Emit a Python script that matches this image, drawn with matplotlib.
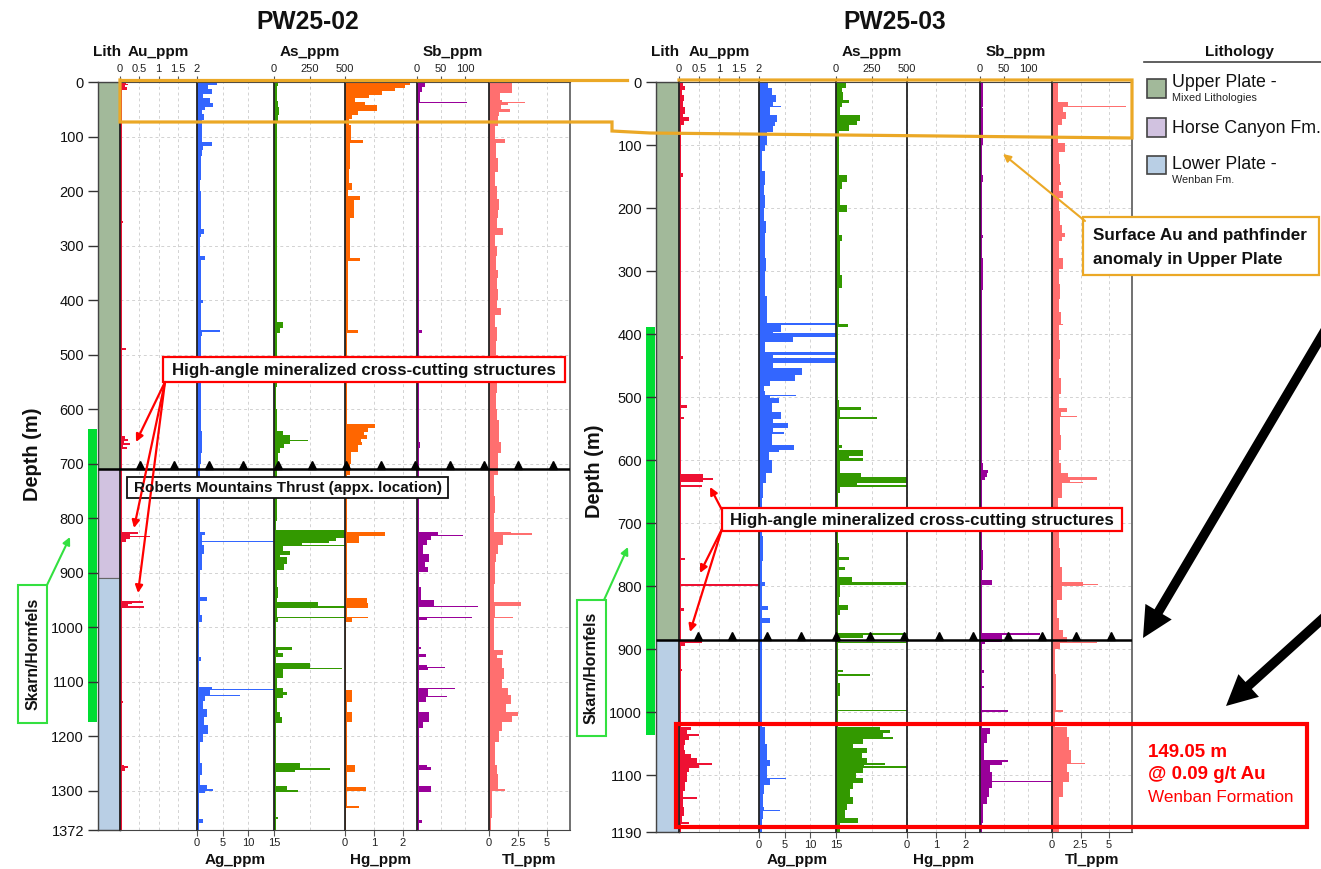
import matplotlib
matplotlib.use("Agg")
import matplotlib.pyplot as plt
from matplotlib.patches import Rectangle
from matplotlib.transforms import offset_copy

plt.rcParams['font.family'] = ['Liberation Sans', 'DejaVu Sans']

# ---------------- data ----------------
TD_02 = 1372
TD_03 = 1190
DEPTH_TICKS_02 = [0, 100, 200, 300, 400, 500, 600, 700, 800, 900, 1000, 1100, 1200, 1300, 1372]
DEPTH_TICKS_03 = [0, 100, 200, 300, 400, 500, 600, 700, 800, 900, 1000, 1100, 1190]

LITH_02 = [(0, 710, 'upper'), (710, 910, 'horse'), (910, 1372, 'lower')]
LITH_03 = [(0, 885, 'upper'), (885, 1190, 'lower')]
SKARN_02 = (636, 1174)
SKARN_03 = (389, 1036)
THRUST_02 = 710
THRUST_03 = 885

# (sample top depth m, value ppm)
AU_02 = [(0, 0.15), (3, 0.22), (6, 0.12), (10, 0.18), (14, 0.04), (255, 0.08), (258, 0.04), (488, 0.15),
         (491, 0.04), (650, 0.12), (654, 0.22), (658, 0.1), (662, 0.25), (666, 0.08), (670, 0.18), (674, 0.06),
         (678, 0.04), (826, 0.48), (829, 0.26), (832, 0.78), (834, 0.26), (838, 0.15), (843, 0.04), (952, 0.6),
         (955, 0.3), (958, 0.2), (961, 0.62), (964, 0.04), (1136, 0.08), (1139, 0.04), (1252, 0.1), (1255, 0.22),
         (1259, 0.12), (1263, 0.04)]
AG_02 = [(0, 3.8), (5, 2.2), (12, 3.0), (22, 1.2), (30, 2.5), (38, 3.2), (45, 1.6), (52, 1.0), (58, 1.4), (70, 1.0),
         (80, 0.9), (95, 1.0), (110, 3.0), (118, 1.2), (125, 0.9), (135, 0.8), (180, 0.6), (200, 0.7), (270, 1.4),
         (278, 0.8), (285, 0.6), (320, 1.6), (326, 0.8), (335, 0.7), (400, 1.2), (406, 0.8), (450, 0.7), (454, 4.5),
         (458, 0.9), (465, 0.7), (600, 0.8), (640, 1.0), (680, 0.7), (700, 0.6), (760, 0.5), (800, 0.5), (825, 1.5),
         (830, 0.9), (842, 15), (844, 0.9), (850, 1.3), (865, 1.0), (895, 0.5), (945, 1.9), (952, 0.5), (978, 0.9),
         (990, 0.4), (1055, 0.8), (1062, 0.4), (1110, 2.9), (1114, 15), (1116, 2.5), (1125, 8.4), (1127, 1.6),
         (1135, 1.2), (1150, 1.9), (1165, 1.4), (1180, 2.2), (1195, 1.2), (1210, 0.5), (1250, 0.9), (1272, 0.5),
         (1290, 2.0), (1296, 3.2), (1300, 1.5), (1304, 0.4), (1352, 1.2), (1360, 0.4)]
AS_02 = [(0, 30), (8, 22), (20, 18), (35, 30), (45, 35), (60, 28), (75, 18), (100, 22), (150, 18), (200, 20),
         (300, 18), (400, 20), (440, 66), (452, 40), (460, 18), (560, 15), (600, 20), (640, 66), (648, 110),
         (656, 242), (659, 110), (664, 70), (672, 40), (680, 25), (700, 18), (770, 22), (806, 15), (822, 500),
         (836, 440), (842, 390), (846, 200), (849, 500), (851, 60), (861, 113), (867, 40), (871, 89), (884, 70),
         (895, 18), (926, 25), (947, 18), (953, 308), (962, 500), (964, 22), (981, 500), (983, 25), (990, 15),
         (1036, 125), (1042, 30), (1048, 60), (1054, 15), (1066, 254), (1074, 477), (1076, 60), (1088, 60),
         (1094, 18), (1112, 60), (1118, 89), (1124, 60), (1130, 18), (1155, 45), (1165, 55), (1175, 15),
         (1250, 183), (1259, 395), (1262, 150), (1266, 15), (1292, 89), (1298, 167), (1302, 15), (1348, 25),
         (1352, 12)]
HG_02 = [(0, 2.26), (5, 2.08), (11, 1.74), (17, 1.27), (24, 0.85), (30, 0.35), (36, 0.7), (42, 1.1), (54, 0.45),
         (60, 0.25), (68, 0.15), (79, 0.2), (106, 0.64), (112, 0.18), (160, 0.15), (186, 0.23), (198, 0.12),
         (210, 0.52), (216, 0.3), (250, 0.18), (323, 0.52), (328, 0.12), (400, 0.1), (455, 0.44), (460, 0.06),
         (628, 1.04), (635, 0.8), (642, 0.65), (648, 0.75), (654, 0.55), (660, 0.6), (666, 0.45), (678, 0.2),
         (700, 0.18), (720, 0.08), (826, 1.39), (832, 0.5), (845, 0.06), (947, 0.75), (956, 0.8), (965, 0.06),
         (981, 0.8), (983, 0.25), (990, 0.05), (1115, 0.25), (1137, 0.06), (1155, 0.25), (1173, 0.06),
         (1252, 0.35), (1265, 0.06), (1294, 0.72), (1300, 0.06), (1328, 0.5), (1331, 0.04)]
SB_02 = [(0, 16), (10, 10), (18, 6), (36, 105), (39, 5), (60, 5), (455, 11), (460, 5), (660, 6), (672, 5),
         (825, 44), (830, 96), (832, 30), (840, 20), (849, 12), (865, 24), (880, 16), (890, 22), (898, 5), (926, 8),
         (950, 36), (961, 128), (963, 5), (981, 114), (983, 20), (986, 5), (1036, 8), (1040, 5), (1050, 18),
         (1054, 5), (1069, 20), (1073, 58), (1075, 22), (1078, 5), (1112, 79), (1114, 22), (1126, 63), (1128, 18),
         (1137, 5), (1155, 24), (1173, 12), (1185, 5), (1252, 20), (1257, 30), (1262, 5), (1292, 30), (1302, 5),
         (1354, 10), (1360, 4)]
TL_02 = [(0, 1.96), (20, 0.95), (33, 1.1), (36, 3.1), (39, 1.6), (43, 1.0), (49, 1.8), (55, 0.9), (63, 0.75),
         (80, 0.5), (104, 1.4), (112, 0.6), (140, 0.75), (165, 0.55), (190, 0.7), (215, 0.9), (235, 0.8),
         (250, 0.65), (268, 1.24), (281, 0.55), (300, 0.7), (320, 0.6), (345, 0.75), (360, 0.65), (380, 0.8),
         (400, 0.7), (415, 1.0), (427, 0.55), (450, 0.7), (475, 0.6), (500, 0.75), (520, 0.6), (545, 0.7),
         (570, 0.6), (600, 0.7), (620, 0.85), (640, 0.9), (660, 1.0), (680, 0.8), (700, 0.75), (720, 0.45),
         (760, 0.55), (790, 0.45), (825, 1.9), (828, 3.7), (830, 1.2), (849, 0.8), (865, 0.6), (880, 0.5),
         (920, 0.4), (953, 2.8), (962, 0.5), (982, 2.1), (984, 0.4), (1042, 1.24), (1051, 0.7), (1057, 1.1),
         (1075, 1.3), (1095, 1.1), (1112, 1.67), (1125, 1.9), (1140, 1.5), (1155, 2.5), (1163, 2.0), (1173, 1.1),
         (1190, 0.9), (1210, 0.5), (1253, 0.7), (1270, 0.8), (1296, 1.4), (1300, 0.3), (1350, 0.2)]

AU_03 = [(0, 0.1), (6, 0.15), (12, 0.08), (20, 0.12), (30, 0.1), (40, 0.15), (50, 0.1), (55, 0.26), (62, 0.12),
         (68, 0.05), (145, 0.1), (150, 0.05), (230, 0.06), (260, 0.04), (435, 0.1), (440, 0.04), (513, 0.19),
         (517, 0.04), (531, 0.12), (535, 0.04), (622, 0.6), (628, 0.86), (631, 0.6), (635, 0.04), (639, 0.57),
         (642, 0.04), (755, 0.15), (758, 0.04), (796, 2.0), (799, 0.04), (834, 0.12), (840, 0.04), (886, 0.57),
         (890, 0.15), (895, 0.04), (932, 0.08), (934, 0.04), (1023, 0.3), (1028, 0.2), (1034, 0.5), (1038, 0.25),
         (1044, 0.15), (1052, 0.12), (1060, 0.15), (1066, 0.3), (1073, 0.45), (1080, 0.82), (1083, 0.5),
         (1088, 0.25), (1095, 0.2), (1110, 0.15), (1125, 0.1), (1135, 0.44), (1138, 0.1), (1150, 0.12),
         (1165, 0.08), (1174, 0.25), (1177, 0.05)]
AG_03 = [(0, 1.8), (10, 2.5), (21, 3.3), (31, 2.8), (38, 4.3), (40, 2.2), (53, 3.6), (63, 3.1), (70, 2.8),
         (80, 1.5), (100, 1.2), (110, 0.6), (142, 1.2), (163, 0.9), (180, 1.1), (200, 1.0), (220, 1.3), (240, 1.1),
         (260, 1.2), (280, 1.4), (300, 1.1), (320, 1.2), (340, 1.6), (360, 1.5), (383, 15), (385, 4.2), (396, 2.8),
         (399, 15), (404, 6.7), (412, 1.2), (428, 15), (433, 2.8), (438, 15), (446, 2.8), (454, 8.3), (465, 7.0),
         (475, 2.2), (483, 0.9), (490, 1.2), (496, 7.3), (498, 2.2), (502, 3.8), (510, 2.5), (523, 4.2), (534, 2.8),
         (541, 5.7), (549, 2.8), (555, 4.8), (558, 2.5), (563, 2.5), (576, 6.8), (584, 3.8), (587, 2.0), (600, 2.5),
         (620, 1.3), (637, 0.8), (660, 0.6), (720, 0.7), (760, 0.5), (794, 1.2), (799, 0.5), (832, 1.8), (838, 0.6),
         (851, 2.1), (859, 0.6), (900, 0.5), (1000, 0.6), (1023, 1.1), (1050, 1.6), (1075, 2.1), (1085, 1.6),
         (1104, 5.3), (1106, 2.1), (1115, 1.0), (1130, 0.8), (1150, 1.0), (1155, 4.0), (1157, 0.8), (1170, 0.6)]
AS_03 = [(0, 68), (10, 40), (16, 50), (28, 94), (34, 45), (39, 30), (53, 169), (62, 145), (68, 90), (78, 20),
         (100, 18), (148, 75), (158, 40), (169, 25), (195, 75), (206, 22), (243, 45), (253, 25), (306, 40), (327, 22),
         (384, 87), (388, 15), (505, 18), (515, 176), (520, 28), (531, 287), (535, 22), (576, 45), (581, 20),
         (584, 193), (594, 95), (597, 188), (602, 25), (621, 174), (626, 500), (637, 150), (640, 500), (642, 25),
         (652, 15), (732, 18), (754, 92), (758, 20), (770, 63), (774, 20), (785, 110), (793, 500), (798, 25),
         (812, 30), (817, 18), (830, 87), (838, 30), (845, 15), (875, 500), (877, 193), (882, 30), (888, 500),
         (890, 15), (933, 50), (936, 15), (940, 240), (942, 15), (954, 30), (975, 15), (996, 500), (998, 15),
         (1023, 310), (1028, 380), (1033, 334), (1039, 404), (1042, 193), (1050, 120), (1056, 216), (1064, 180),
         (1072, 216), (1081, 345), (1084, 200), (1086, 500), (1088, 193), (1096, 140), (1104, 193), (1112, 122),
         (1122, 100), (1134, 122), (1145, 75), (1155, 60), (1168, 157), (1176, 30)]
HG_03 = []
SB_03 = [(0, 6), (20, 7), (40, 5), (42, 6), (100, 5), (148, 6), (158, 5), (243, 7), (248, 5), (280, 6), (330, 5),
         (605, 6), (616, 17), (621, 14), (626, 10), (632, 5), (743, 7), (774, 5), (790, 24), (798, 5), (874, 125),
         (877, 45), (888, 10), (892, 5), (933, 8), (938, 5), (959, 8), (962, 5), (996, 59), (999, 5), (1025, 21),
         (1035, 14), (1049, 8), (1075, 59), (1079, 45), (1083, 20), (1095, 25), (1109, 150), (1111, 25),
         (1120, 18), (1135, 14), (1145, 7), (1176, 4)]
TL_03 = [(0, 0.55), (31, 1.4), (38, 6.5), (39.5, 1.0), (48, 1.2), (58, 0.9), (68, 0.5), (97, 1.14), (111, 0.6),
         (130, 0.7), (158, 0.8), (163, 0.6), (173, 1.0), (184, 0.6), (205, 0.7), (227, 0.85), (240, 1.1),
         (246, 0.85), (253, 0.6), (280, 1.0), (296, 0.6), (320, 0.7), (345, 0.6), (365, 0.75), (384, 1.0),
         (386, 0.6), (410, 0.7), (440, 0.65), (470, 0.75), (495, 0.65), (518, 1.3), (523, 0.8), (530, 2.2),
         (532, 0.7), (560, 0.8), (584, 0.6), (605, 0.75), (621, 1.4), (627, 3.9), (631, 1.6), (634, 2.7),
         (636, 0.9), (660, 0.55), (700, 0.65), (740, 0.7), (770, 0.85), (794, 2.7), (796, 4.05), (798, 2.7),
         (800, 0.9), (822, 0.4), (850, 0.6), (869, 1.0), (880, 1.3), (888, 3.9), (890, 0.7), (900, 0.3),
         (940, 0.35), (996, 1.0), (1000, 0.3), (1023, 1.3), (1040, 1.5), (1060, 1.7), (1080, 2.9), (1082, 1.3),
         (1095, 1.5), (1110, 1.0), (1135, 0.6), (1176, 0.6)]

ELEMENTS = ['Au', 'Ag', 'As', 'Hg', 'Sb', 'Tl']
XMAX = {'Au': 2, 'Ag': 15, 'As': 500, 'Hg': 2.5, 'Sb': 150, 'Tl': 7}
XTICKS = {'Au': [0, 0.5, 1, 1.5, 2], 'Ag': [0, 5, 10, 15], 'As': [0, 250, 500],
          'Hg': [0, 1, 2], 'Sb': [0, 50, 100], 'Tl': [0, 2.5, 5]}
XTICKLABELS = {'Au': ['0', '0.5', '1', '1.5', '2'], 'Ag': ['0', '5', '10', '15'], 'As': ['0', '250', '500'],
               'Hg': ['0', '1', '2'], 'Sb': ['0', '50', '100'], 'Tl': ['0', '2.5', '5']}
LABEL_TOP = {'Au': True, 'Ag': False, 'As': True, 'Hg': False, 'Sb': True, 'Tl': False}

# ---------------- styles ----------------
COLORS = {'Au': '#ee1133', 'Ag': '#3366ff', 'As': '#339900', 'Hg': '#ff6600', 'Sb': '#990099', 'Tl': '#ff6f6f'}
LITH_COLORS = {'upper': '#a2b99a', 'horse': '#d1c2e0', 'lower': '#b9cfe5'}
SKARN_COLOR = '#00dd33'
YELLOW = '#eba826'
W, H = 1321, 869

fig = plt.figure(figsize=(W / 100, H / 100), dpi=100)


def rect(x0, x1, y0, y1):
    return [x0 / W, 1 - y1 / H, (x1 - x0) / W, (y1 - y0) / H]


def draw_series(ax, samples, td, color, xmax):
    if not samples:
        return
    tops = [s[0] for s in samples]
    vals = [min(s[1], xmax) for s in samples]
    bots = tops[1:] + [td]
    hts = [b - t for t, b in zip(tops, bots)]
    ax.barh(tops, vals, height=hts, align='edge', color=color, linewidth=0)


def panel(td, series, lith, skarn, thrust, yticks, cfg):
    yt, yb = cfg['ytop'], cfg['ybot']
    edges = cfg['edges']
    sk = fig.add_axes(rect(cfg['skarn_x'][0], cfg['skarn_x'][1], yt, yb))
    sk.set_zorder(0)
    sk.set_xlim(0, 1)
    sk.set_ylim(td, 0)
    sk.axis('off')
    sk.axhspan(skarn[0], skarn[1], color=SKARN_COLOR, lw=0)

    la = fig.add_axes(rect(cfg['lith'][0], cfg['lith'][1], yt, yb))
    la.set_zorder(1)
    la.set_xlim(0, 1)
    la.set_ylim(td, 0)
    for top, bot, unit in lith:
        la.axhspan(top, bot, facecolor=LITH_COLORS[unit], edgecolor='#666666', lw=0.8)
    la.set_xticks([])
    la.set_yticks(yticks)
    la.set_yticklabels([str(t) for t in yticks])
    la.tick_params(axis='y', direction='out', length=7, width=1, color='#333333', labelsize=10.5, pad=3,
                   labelcolor='#111111')
    for s in la.spines.values():
        s.set_color('#444444')
        s.set_linewidth(1.0)

    for i, el in enumerate(ELEMENTS):
        ax = fig.add_axes(rect(edges[i], edges[i + 1], yt, yb))
        ax.set_zorder(1)
        ax.set_xlim(0, XMAX[el])
        ax.set_ylim(td, 0)
        ax.set_yticks(list(range(100, td, 100)))
        ax.tick_params(axis='y', length=0, labelleft=False)
        ax.set_xticks(XTICKS[el])
        ax.set_xticklabels(XTICKLABELS[el])
        if LABEL_TOP[el]:
            ax.xaxis.tick_top()
        else:
            ax.xaxis.tick_bottom()
        ax.tick_params(axis='x', direction='out', length=4, width=0.8, color='#555555', labelsize=8, pad=2,
                       labelcolor='#222222')
        ax.grid(True, color='#d2d2d2', lw=0.7, ls=(0, (3, 3)))
        ax.set_axisbelow(True)
        draw_series(ax, series[el], td, COLORS[el], XMAX[el])
        ax.spines['left'].set_color('#222222')
        ax.spines['left'].set_linewidth(1.3)
        ax.spines['top'].set_color('#444444')
        ax.spines['bottom'].set_color('#444444')
        if i == len(ELEMENTS) - 1:
            ax.spines['right'].set_color('#666666')
            ax.spines['right'].set_linewidth(1.3)
        else:
            ax.spines['right'].set_visible(False)

    ov = fig.add_axes(rect(cfg['lith'][0], edges[-1], yt, yb))
    ov.set_zorder(3)
    ov.axis('off')
    ov.set_xlim(cfg['lith'][0], edges[-1])
    ov.set_ylim(td, 0)
    ov.plot([cfg['lith'][0], edges[-1]], [thrust, thrust], color='black', lw=1.8, solid_capstyle='butt')
    xs = [cfg['tri0'] + k * cfg['tri_dx'] for k in range(13)]
    ov.plot(xs, [thrust] * len(xs), ls='none', marker='^', ms=6, color='black',
            transform=offset_copy(ov.transData, fig=fig, x=0, y=4, units='dots'))


CFG_02 = dict(lith=(98, 120), edges=[120, 197, 274, 345, 417, 489, 570], ytop=82, ybot=830,
              skarn_x=(88, 97), tri0=140, tri_dx=34.4)
CFG_03 = dict(lith=(656, 679), edges=[679, 759, 836, 907, 980, 1052, 1132], ytop=82, ybot=832,
              skarn_x=(646, 655), tri0=698, tri_dx=34.4)

panel(TD_02, {'Au': AU_02, 'Ag': AG_02, 'As': AS_02, 'Hg': HG_02, 'Sb': SB_02, 'Tl': TL_02},
      LITH_02, SKARN_02, THRUST_02, DEPTH_TICKS_02, CFG_02)
panel(TD_03, {'Au': AU_03, 'Ag': AG_03, 'As': AS_03, 'Hg': HG_03, 'Sb': SB_03, 'Tl': TL_03},
      LITH_03, SKARN_03, THRUST_03, DEPTH_TICKS_03, CFG_03)

# ---------------- annotation overlay (pixel coordinates) ----------------
A = fig.add_axes([0, 0, 1, 1])
A.set_zorder(10)
A.set_xlim(0, W)
A.set_ylim(H, 0)
A.axis('off')

BOLD = dict(fontweight='bold', color='#111111')
A.text(308, 29, 'PW25-02', ha='center', va='baseline', fontsize=17.7, **BOLD)
A.text(895, 29, 'PW25-03', ha='center', va='baseline', fontsize=17.7, **BOLD)

for cfg in (CFG_02, CFG_03):
    e = cfg['edges']
    A.text((cfg['lith'][0] + cfg['lith'][1]) / 2 - 2, 56, 'Lith', ha='center', va='baseline', fontsize=11, **BOLD)
    for i, el in enumerate(ELEMENTS):
        cx = (e[i] + e[i + 1]) / 2
        if LABEL_TOP[el]:
            A.text(cx, 56, el + '_ppm', ha='center', va='baseline', fontsize=11, **BOLD)
        else:
            A.text(cx, 864, el + '_ppm', ha='center', va='baseline', fontsize=11, **BOLD)

A.text(33, 454, 'Depth (m)', rotation=90, ha='center', va='center', fontsize=14.4, **BOLD)
A.text(595, 471, 'Depth (m)', rotation=90, ha='center', va='center', fontsize=14.4, **BOLD)

# yellow outline
A.plot([120, 627], [80, 80], color=YELLOW, lw=2.3, solid_capstyle='projecting')
A.plot([679, 1132, 1132, 650, 612, 612, 120, 120], [80, 80, 138, 133, 131, 122, 122, 80], color=YELLOW, lw=2.3,
       solid_joinstyle='miter')

# yellow callout
A.add_patch(Rectangle((1083, 217), 236, 58, fc='white', ec=YELLOW, lw=1.6))
A.text(1093, 240, 'Surface Au and pathfinder', ha='left', va='baseline', fontsize=12.3, **BOLD)
A.text(1093, 264, 'anomaly in Upper Plate', ha='left', va='baseline', fontsize=12.3, **BOLD)
A.annotate('', xy=(1003, 154), xytext=(1085, 221),
           arrowprops=dict(arrowstyle='-|>', color=YELLOW, lw=1.5, mutation_scale=11, shrinkA=0, shrinkB=0))

# red structure callouts
RED = '#ff0000'
A.add_patch(Rectangle((163, 357), 402, 25, fc='white', ec=RED, lw=1.6))
A.text(364, 370, 'High-angle mineralized cross-cutting structures', ha='center', va='center', fontsize=12.2, **BOLD)
for tip in [(136, 442), (134, 528), (138, 593)]:
    A.annotate('', xy=tip, xytext=(165, 382),
               arrowprops=dict(arrowstyle='-|>', color=RED, lw=1.6, mutation_scale=11, shrinkA=0, shrinkB=0))
A.add_patch(Rectangle((722, 508), 400, 23, fc='white', ec=RED, lw=1.6))
A.text(922, 520, 'High-angle mineralized cross-cutting structures', ha='center', va='center', fontsize=12.2, **BOLD)
for tip, start in [((710, 487), (722, 510)), ((700, 573), (722, 529)), ((690, 632), (722, 529))]:
    A.annotate('', xy=tip, xytext=start,
               arrowprops=dict(arrowstyle='-|>', color=RED, lw=1.6, mutation_scale=11, shrinkA=0, shrinkB=0))

# thrust label
A.add_patch(Rectangle((127, 477), 321, 21, fc='white', ec='#111111', lw=1.3))
A.text(287.5, 488, 'Roberts Mountains Thrust (appx. location)', ha='center', va='center', fontsize=11, **BOLD)

# skarn labels
GREEN = '#33e040'
A.add_patch(Rectangle((18, 585), 29, 138, fc='white', ec=GREEN, lw=1.5))
A.text(32.5, 654, 'Skarn/Hornfels', rotation=90, ha='center', va='center', fontsize=11.3, **BOLD)
A.annotate('', xy=(70, 537), xytext=(47, 585),
           arrowprops=dict(arrowstyle='-|>', color=GREEN, lw=1.5, mutation_scale=11, shrinkA=0, shrinkB=0))
A.add_patch(Rectangle((577, 600), 29, 136, fc='white', ec=GREEN, lw=1.5))
A.text(591.5, 668, 'Skarn/Hornfels', rotation=90, ha='center', va='center', fontsize=11.3, **BOLD)
A.annotate('', xy=(628, 547), xytext=(604, 600),
           arrowprops=dict(arrowstyle='-|>', color=GREEN, lw=1.5, mutation_scale=11, shrinkA=0, shrinkB=0))

# red interval box
A.add_patch(Rectangle((676, 724), 631, 103, fc='none', ec=RED, lw=3))
A.text(1148, 757, '149.05 m', ha='left', va='baseline', fontsize=13.5, fontweight='bold', color=RED)
A.text(1148, 779, '@ 0.09 g/t Au', ha='left', va='baseline', fontsize=13.5, fontweight='bold', color=RED)
A.text(1148, 802, 'Wenban Formation', ha='left', va='baseline', fontsize=12.3, color=RED)

# big black arrows
for tail, tip in [((1330, 322), (1143, 638)), ((1330, 612), (1226, 706))]:
    A.annotate('', xy=tip, xytext=tail,
               arrowprops=dict(arrowstyle='simple,head_length=1.1,head_width=1.1,tail_width=0.34',
                               fc='black', ec='black', lw=0, mutation_scale=20, shrinkA=0, shrinkB=0),
               annotation_clip=False)

# legend
A.text(1239, 56, 'Lithology', ha='center', va='baseline', fontsize=11, **BOLD)
A.plot([1144, 1321], [62, 62], color='#444444', lw=1.2)
LEG = [((79, 98), 'upper', 'Upper Plate -', 'Mixed Lithologies', 87),
       ((118, 137), 'horse', 'Horse Canyon Fm.', None, 133),
       ((156, 174), 'lower', 'Lower Plate -', 'Wenban Fm.', 169)]
for (y0, y1), unit, main, sub, base in LEG:
    A.add_patch(Rectangle((1147, y0), 19, y1 - y0, fc=LITH_COLORS[unit], ec='#444444', lw=1.2))
    A.text(1172, base, main, ha='left', va='baseline', fontsize=12.8, color='#111111')
    if sub:
        A.text(1172, base + 14, sub, ha='left', va='baseline', fontsize=7.8, color='#222222')

fig.savefig('out.png', dpi=100)
